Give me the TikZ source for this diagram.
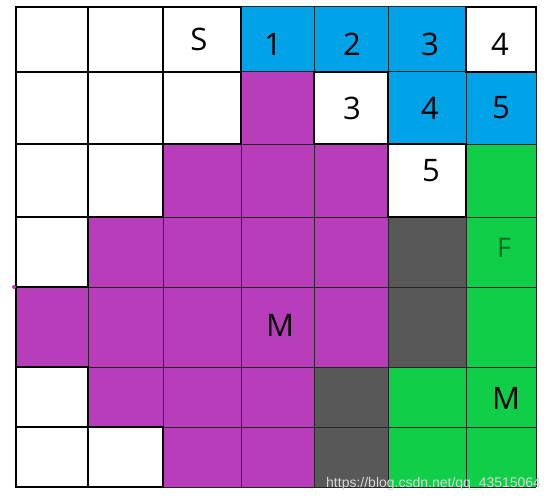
\documentclass[tikz,border=0pt]{standalone}
\usepackage{fontspec}
\setmainfont{Open Sans}
\newfontfamily\wmfont{Liberation Sans}
\definecolor{cW}{RGB}{255,255,255}
\definecolor{cB}{RGB}{0,162,232}
\definecolor{cP}{RGB}{184,61,186}
\definecolor{cG}{RGB}{16,206,72}
\definecolor{cK}{RGB}{88,88,88}
\definecolor{fgreen}{RGB}{10,110,35}
\definecolor{wm}{RGB}{215,215,215}
\tikzset{
  lbl/.style={font=\fontsize{31}{31}\selectfont, inner sep=0pt, text=black},
  thin grid/.style={line width=1pt, draw=black!85},
  white border/.style={line width=2pt, draw=black},
}
\def\wcode{W}
\begin{document}
\begin{tikzpicture}[x=1pt,y=-1pt]
\useasboundingbox (0,0) rectangle (556,500);
\fill[white] (0,0) rectangle (556,500);
\def\xs{{16,88,163,241,314,388,466,536}}
\def\ys{{7,72,144,217,287,367,427,487}}
% cell fills
\foreach \r/\row in {0/{W,W,W,B,B,B,W},1/{W,W,W,P,W,B,B},2/{W,W,P,P,P,W,G},3/{W,P,P,P,P,K,G},4/{P,P,P,P,P,K,G},5/{W,P,P,P,K,G,G},6/{W,W,P,P,K,G,G}}{
  \foreach \k [count=\c from 0] in \row {
    \pgfmathsetmacro\xa{\xs[\c]}\pgfmathsetmacro\xb{\xs[\c+1]}
    \pgfmathsetmacro\ya{\ys[\r]}\pgfmathsetmacro\yb{\ys[\r+1]}
    \fill[c\k] (\xa,\ya) rectangle (\xb,\yb);
  }
}
% thin grid
\foreach \i in {0,...,7}{
  \pgfmathsetmacro\xx{\xs[\i]}
  \draw[thin grid] (\xx,7) -- (\xx,487);
  \pgfmathsetmacro\yy{\ys[\i]}
  \draw[thin grid] (16,\yy) -- (536,\yy);
}
% thick borders round white cells
\foreach \r/\row in {0/{W,W,W,B,B,B,W},1/{W,W,W,P,W,B,B},2/{W,W,P,P,P,W,G},3/{W,P,P,P,P,K,G},4/{P,P,P,P,P,K,G},5/{W,P,P,P,K,G,G},6/{W,W,P,P,K,G,G}}{
  \foreach \k [count=\c from 0] in \row {
    \ifx\k\wcode
      \pgfmathsetmacro\xa{\xs[\c]}\pgfmathsetmacro\xb{\xs[\c+1]}
      \pgfmathsetmacro\ya{\ys[\r]}\pgfmathsetmacro\yb{\ys[\r+1]}
      \draw[white border] (\xa,\ya) rectangle (\xb,\yb);
    \fi
  }
}
\draw[white border] (16,287) -- (16,487) -- (163,487);
% small purple mark at left
\fill[cP] (14,287) circle (2pt);
% labels
\node[lbl] (s)  at (199,39) {S};
\node[lbl] (n1) at (273,44) {1};
\node[lbl] (n2) at (352,44) {2};
\node[lbl] (n3) at (430,44) {3};
\node[lbl] (n4) at (500,44) {4};
\node[lbl] (m3) at (352,108) {3};
\node[lbl] (m4) at (430,108) {4};
\node[lbl] (m5) at (501,108) {5};
\node[lbl] (r5) at (431,171) {5};
\node[lbl, text=fgreen, font=\fontsize{27}{27}\selectfont] (f) at (504,248) {F};
\node[lbl] (ma) at (280,325) {M};
\node[lbl] (mb) at (506,398) {M};
% watermark
\node[anchor=base west, inner sep=0pt, text=wm, font=\wmfont\fontsize{14}{14}\selectfont] (wmk) at (326,487) {https://blog.csdn.net/qq\_43515064};
\end{tikzpicture}
\end{document}
